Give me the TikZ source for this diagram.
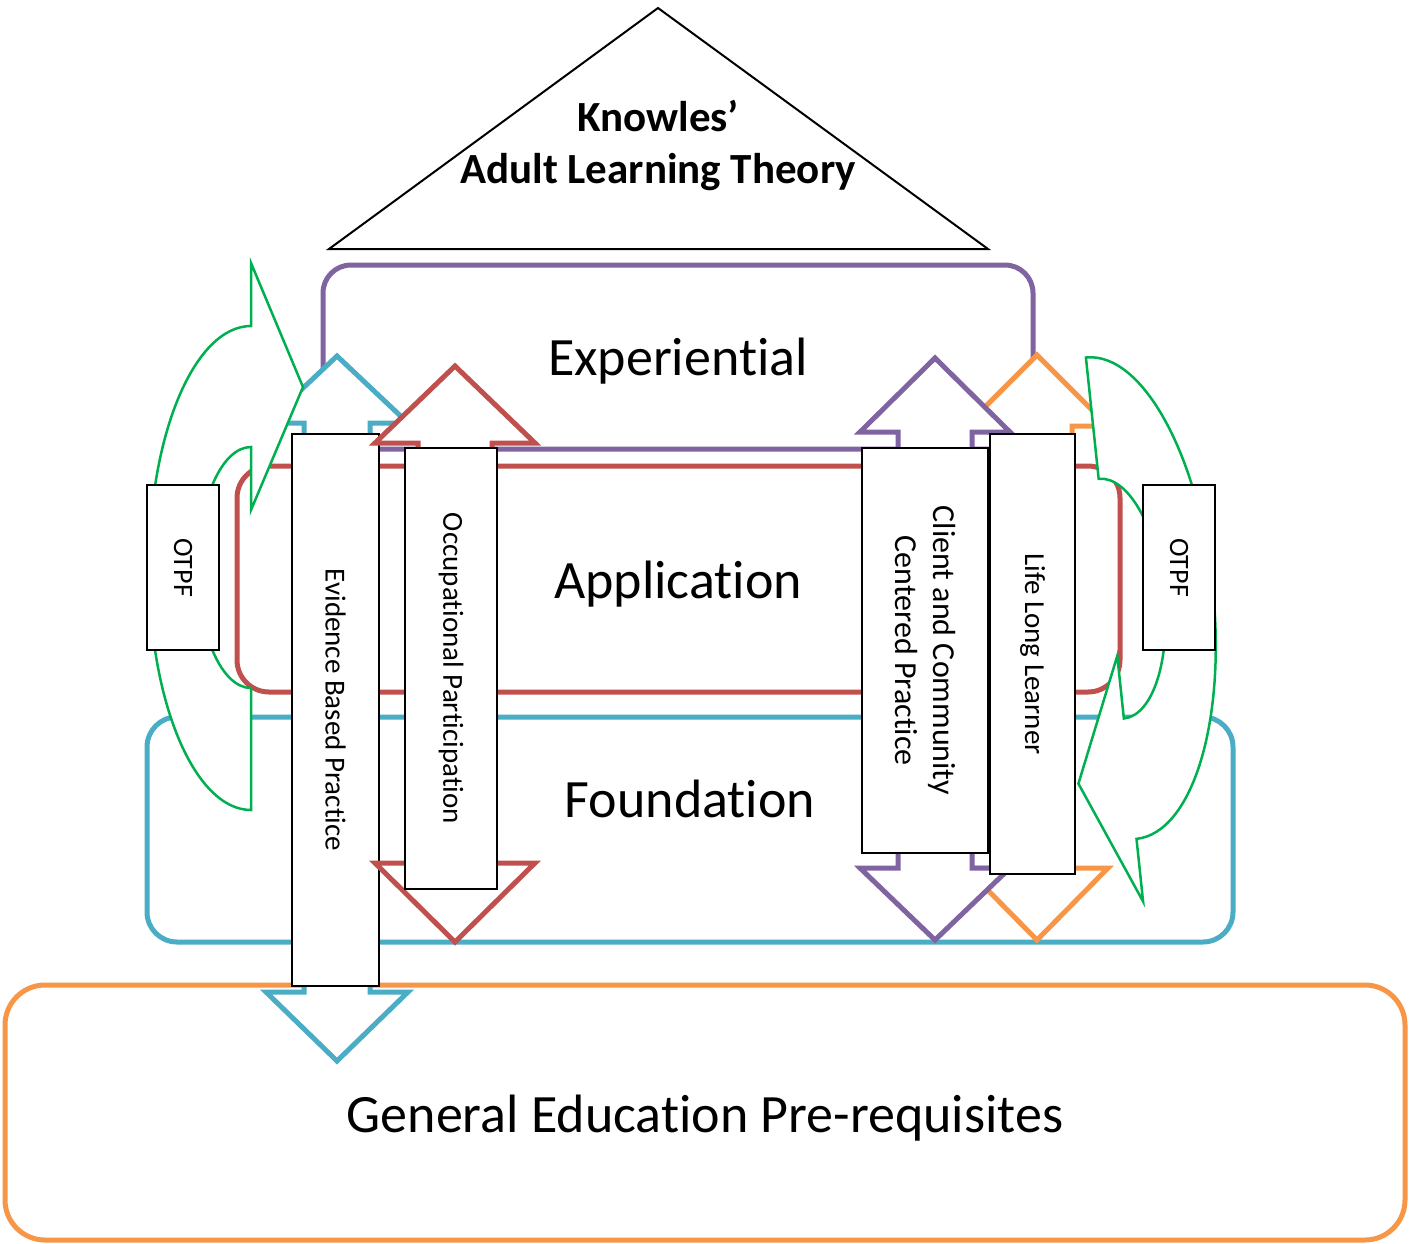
\documentclass[tikz,border=0pt]{standalone}
\usepackage{fontspec}
\setmainfont{Carlito}[Ligatures=NoCommon]
\definecolor{cpurple}{HTML}{8064A2}
\definecolor{cred}{HTML}{C0504D}
\definecolor{cblue}{HTML}{4BACC6}
\definecolor{corange}{HTML}{F79646}
\definecolor{cgreen}{HTML}{00B050}
% up-down block arrow: colour, centre x, top tip, top base, bottom base, bottom tip, head half-width, shaft half-width
\newcommand{\DArrowShape}[8]{%
  \draw[#1, line width=5pt, fill=white, line join=miter]
  (#2,#3) -- ({#2+#7},#4) -- ({#2+#8},#4) -- ({#2+#8},#5) -- ({#2+#7},#5) -- (#2,#6)
  -- ({#2-#7},#5) -- ({#2-#8},#5) -- ({#2-#8},#4) -- ({#2-#7},#4) -- cycle;}
\tikzset{
  otpfloop/.pic={
    \draw[cgreen, line width=2.5pt, fill=white, line join=miter]
      (0,-273.5) -- (52,-149.5) -- (0,-26.5) -- (0,-89.5)
      .. controls (-29.3,-89.5) and (-53,-35.6) .. (-53,31)
      .. controls (-53,97.6) and (-29.3,151.5) .. (0,151.5)
      -- (0,273.5)
      .. controls (-56.3,273.5) and (-102,165.2) .. (-102,31.5)
      .. controls (-102,-102.2) and (-56.3,-210.5) .. (0,-210.5)
      -- cycle;
  }
}
\begin{document}
\begin{tikzpicture}[x=1pt, y=-1pt,
  ring/.style={line width=5pt, fill=white, rectangle, inner sep=0pt, outer sep=0pt},
  bigtext/.style={font=\fontsize{54}{64}\selectfont, inner sep=0pt},
  vbox/.style={draw=black, line width=2.5pt, fill=white, rectangle, rotate=-90,
    inner sep=0pt, outer sep=0pt, font=\fontsize{29}{37}\selectfont, align=center},
  otpfbox/.style={vbox, font=\fontsize{28}{34}\selectfont, minimum width=165pt, minimum height=72pt}
]
\useasboundingbox (0,0) rectangle (1409,1243);

% roof
\draw[black, line width=2pt, line join=miter] (329,249) -- (658,8) -- (988,249) -- cycle;
\node[font=\bfseries\fontsize{43}{52}\selectfont, align=center, inner sep=0pt] (knowles) at (658,145) {Knowles’\\Adult Learning Theory};

% layers
\node[ring, draw=corange, rounded corners=40pt, minimum width=1400pt, minimum height=255pt] (gen) at (705,1112.5) {};
\node[bigtext] (gentext) at (705,1118) {General Education Pre-requisites};
\node[ring, draw=cblue, rounded corners=30pt, minimum width=1086pt, minimum height=225pt] (found) at (690,829.5) {};
\node[bigtext] (foundtext) at (690,799) {Foundation};
\node[ring, draw=cred, rounded corners=32pt, minimum width=883pt, minimum height=226pt] (appl) at (678.5,579) {};
\node[bigtext] (appltext) at (678,584) {Application};
\node[ring, draw=cpurple, rounded corners=28pt, minimum width=710pt, minimum height=184pt] (exper) at (678,357) {};
\node[bigtext] (expertext) at (678,361) {Experiential};

% evidence based practice
\DArrowShape{cblue}{337}{356}{423}{992}{1061}{71}{33}
\pic at (251,536.5) {otpfloop};
\node[vbox, minimum width=552pt, minimum height=87pt] (ebp) at (335.5,710) {Evidence Based Practice};

% occupational participation
\DArrowShape{cred}{455}{366}{443}{863}{942}{80}{37}
\node[vbox, minimum width=441pt, minimum height=92pt] (occ) at (451,668.5) {Occupational Participation};

% life long learner and client centred
\DArrowShape{corange}{1037}{355}{426}{868}{940}{71}{35}
\DArrowShape{cpurple}{935}{358}{432}{868}{940}{75}{37}
\node[vbox, font=\fontsize{32}{38}\selectfont, minimum width=405pt, minimum height=126pt] (client) at (925,650.5) {Client and Community\\Centered Practice};
\node[vbox, minimum width=440pt, minimum height=85pt] (lll) at (1032.5,654) {Life Long Learner};

\pic[rotate=186] at (1114.5,629.5) {otpfloop};

% OTPF boxes
\node[otpfbox] (otpfL) at (183,567.5) {OTPF};
\node[otpfbox] (otpfR) at (1179,567.5) {OTPF};
\end{tikzpicture}
\end{document}
